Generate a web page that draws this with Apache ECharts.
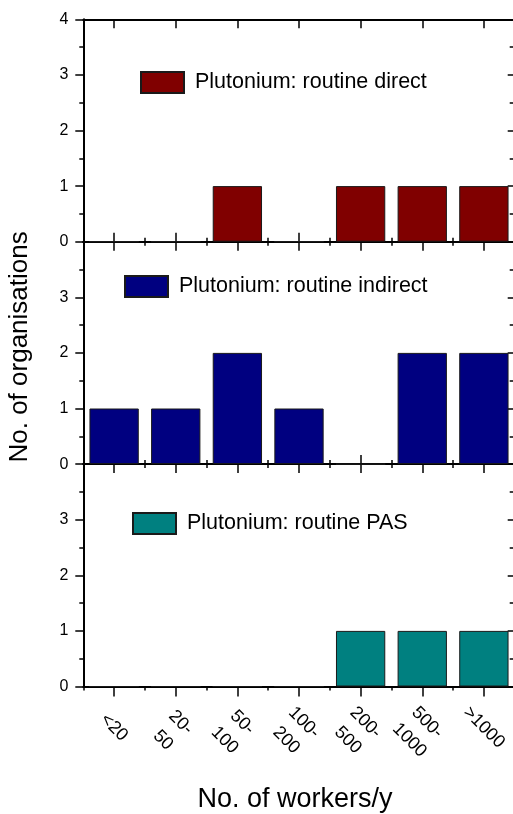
<!DOCTYPE html>
<html>
<head>
<meta charset="utf-8">
<script src="https://cdn.jsdelivr.net/npm/echarts@6/dist/echarts.min.js"></script>
<style>
  html, body { margin: 0; padding: 0; background: #fff; }
  #chart { width: 513px; height: 814px; }
</style>
</head>
<body>
<div id="chart"></div>
<script>
// Workforce size classes (number of workers per year)
const categories = ['<20', '20-\n50', '50-\n100', '100-\n200', '200-\n500', '500-\n1000', '>1000'];

// Number of organisations per size class, one array per monitoring type
const routineDirect   = [0, 0, 1, 0, 1, 1, 1];
const routineIndirect = [1, 1, 2, 1, 0, 2, 2];
const routinePAS      = [0, 0, 0, 0, 1, 1, 1];

const seriesNames  = ['Plutonium: routine direct', 'Plutonium: routine indirect', 'Plutonium: routine PAS'];
const seriesColors = ['#800000', '#000080', '#008080'];
const seriesData   = [routineDirect, routineIndirect, routinePAS];

const yTicks = { min: 0, max: 4, interval: 1 };

const FONT = '"Liberation Sans", Arial, Helvetica, sans-serif';
const AXIS_LINE = { show: true, onZero: false, lineStyle: { color: '#000', width: 2 } };
const TICK_STYLE = { color: '#000', width: 1.5 };

// Panel geometry (three stacked panels sharing the same x range)
const plotLeft = 83.3, plotWidth = 431.4, panelTop = 19.3, panelHeight = 222.4;
const legendPos = [
  { left: 140, top: 71 },
  { left: 124, top: 275 },
  { left: 132, top: 512 }
];

// Two-line size classes get a thin spacer line on top so the block sits a little lower
function categoryLabel(value) {
  const parts = value.split('\n');
  if (parts.length < 2) return '{t|' + value + '}';
  return '{gap| }\n{t|' + parts[0] + '}\n{t|' + parts[1] + '}';
}
const labelText = { fontFamily: FONT, fontSize: 18, color: '#000', lineHeight: 25 };

const chart = echarts.init(document.getElementById('chart'), null, { renderer: 'canvas' });

const grid = [], xAxis = [], yAxis = [], series = [], legend = [];

for (let p = 0; p < 3; p++) {
  grid.push({
    left: plotLeft, width: plotWidth,
    top: panelTop + p * panelHeight, height: panelHeight,
    containLabel: false,
    outerBoundsMode: 'none'
  });
  const isLast = p === 2;

  // bottom axis, ticks at category centres (labels on last panel)
  xAxis.push({
    type: 'category', gridIndex: p, position: 'bottom', data: categories,
    axisLine: AXIS_LINE,
    axisTick: { show: true, alignWithLabel: true, inside: !isLast, length: isLast ? 10 : 9, lineStyle: TICK_STYLE },
    axisLabel: isLast ? {
      show: true, rotate: -45, align: 'center', verticalAlign: 'middle', margin: 41, interval: 0,
      formatter: categoryLabel,
      rich: {
        t: Object.assign({}, labelText),
        gap: { fontFamily: FONT, fontSize: 4, lineHeight: 11 }
      }
    } : { show: false },
    name: isLast ? 'No. of workers/y' : '',
    nameLocation: 'middle', nameGap: 100,
    nameTextStyle: { fontFamily: FONT, fontSize: 27, color: '#000', padding: [0, 8, 0, 0] }
  });
  // bottom axis, short ticks at category boundaries
  xAxis.push({
    type: 'category', gridIndex: p, position: 'bottom', data: categories,
    axisLine: { show: false },
    axisTick: { show: !isLast, inside: true, length: 4, lineStyle: TICK_STYLE },
    axisLabel: { show: false }
  });
  // top axis, ticks at category centres
  xAxis.push({
    type: 'category', gridIndex: p, position: 'top', data: categories,
    axisLine: AXIS_LINE,
    axisTick: { show: true, alignWithLabel: true, inside: true, length: 9, lineStyle: TICK_STYLE },
    axisLabel: { show: false }
  });
  // top axis, short ticks at category boundaries
  xAxis.push({
    type: 'category', gridIndex: p, position: 'top', data: categories,
    axisLine: { show: false },
    axisTick: { show: true, inside: true, length: 4, lineStyle: TICK_STYLE },
    axisLabel: { show: false }
  });

  // left value axis
  yAxis.push({
    type: 'value', gridIndex: p, position: 'left',
    min: yTicks.min, max: yTicks.max, interval: yTicks.interval,
    axisLine: AXIS_LINE,
    axisTick: { show: true, inside: false, length: 8, lineStyle: TICK_STYLE },
    minorTick: { show: true, splitNumber: 2, length: 4, lineStyle: TICK_STYLE },
    splitLine: { show: false },
    axisLabel: { show: true, showMaxLabel: p === 0, margin: 15, fontFamily: FONT, fontSize: 16, color: '#000' },
    name: p === 1 ? 'No. of organisations' : '',
    nameLocation: 'middle', nameGap: 50,
    nameTextStyle: { fontFamily: FONT, fontSize: 26, color: '#000', padding: [0, 0, 0, 12] }
  });
  // right value axis (ticks only; its line falls just past the canvas edge)
  yAxis.push({
    type: 'value', gridIndex: p, position: 'right',
    min: yTicks.min, max: yTicks.max, interval: yTicks.interval,
    axisLine: { show: false },
    axisTick: { show: true, inside: true, length: 7, lineStyle: TICK_STYLE },
    minorTick: { show: true, splitNumber: 2, length: 5, lineStyle: TICK_STYLE },
    splitLine: { show: false },
    axisLabel: { show: false }
  });

  series.push({
    name: seriesNames[p],
    type: 'bar',
    xAxisIndex: p * 4,
    yAxisIndex: p * 2,
    data: seriesData[p],
    barCategoryGap: '20%',
    itemStyle: { color: seriesColors[p], borderColor: '#1a1a1a', borderWidth: 1 },
    z: 1
  });

  legend.push({
    data: [seriesNames[p]],
    left: legendPos[p].left, top: legendPos[p].top,
    padding: 0, itemWidth: 43, itemHeight: 21, icon: 'rect',
    selectedMode: false,
    textStyle: { fontFamily: FONT, fontSize: 21.5, color: '#000', padding: [0, 0, 0, 6] }
  });
}

chart.setOption({
  animation: false,
  backgroundColor: '#fff',
  grid, xAxis, yAxis, series, legend
});
</script>
</body>
</html>
